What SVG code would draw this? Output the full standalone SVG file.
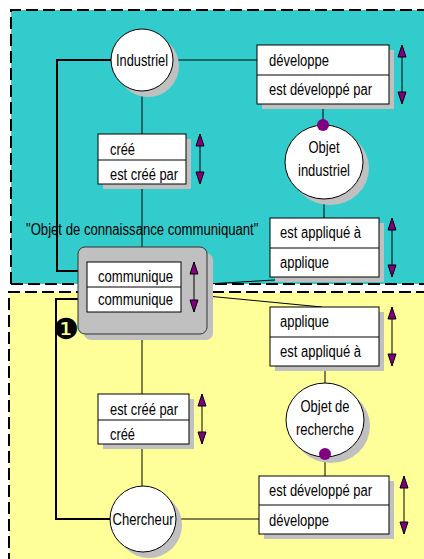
<svg xmlns="http://www.w3.org/2000/svg" width="424" height="559" viewBox="0 0 424 559">
<defs>
<style>
.t{font-family:"Liberation Sans",Arial,sans-serif;font-size:16px;fill:#000}
.box{fill:#fff;stroke:#000;stroke-width:1}
.sh{fill:#c0c0c0}
.ln{stroke:#000;stroke-width:1;fill:none}
.loop{stroke:#000;stroke-width:2;fill:none}
.dash{stroke:#000;stroke-width:2;stroke-dasharray:12 5;fill:none}
.arr{stroke:#000;stroke-width:1;marker-start:url(#ah);marker-end:url(#ah)}
.dot{fill:#800080}
</style>
<marker id="ah" viewBox="0 0 12 8" refX="12" refY="4" markerWidth="12" markerHeight="8" orient="auto-start-reverse" markerUnits="userSpaceOnUse" overflow="visible">
<path d="M0,0 L12,4 L0,8 z" fill="#800080" stroke="#000" stroke-width="1"/>
</marker>
</defs>
<rect width="424" height="559" fill="#fff"/>
<g id="zones">
<rect x="11" y="10" width="420" height="274" fill="#33cccc"/>
<path class="dash" d="M11,284 V10 H430"/>
<path class="dash" d="M11,284 H430"/>
<rect x="9" y="292" width="420" height="270" fill="#ffff99"/>
<path class="dash" d="M9,565 V292 H430"/>
</g>
<g id="connectors">
<path class="loop" d="M111,60 H57 V271 H87"/>
<path class="loop" d="M87,299 H56 V519 H111"/>
<path class="ln" d="M172,60 H257"/>
<path class="ln" d="M142,91 V134 M142,184 V247 M142,334 V394 M142,444 V487"/>
<path class="ln" d="M323,104 V125 M324,199 V218"/>
<path class="ln" d="M207,284 L325,277 M207,296 L322,307"/>
<path class="ln" d="M325,366 V383 M325,457 V476"/>
<path class="ln" d="M177,519 H259"/>
</g>
<g id="communiquant">
<rect class="sh" x="84" y="253" width="129" height="87" rx="7"/>
<rect x="78" y="247" width="129" height="87" rx="7" fill="#c0c0c0" stroke="#333" stroke-width="1"/>
<rect class="box" x="87" y="262" width="94" height="50"/>
<line class="ln" x1="87" y1="287" x2="181" y2="287"/>
<text class="t" x="98" y="282" textLength="75" lengthAdjust="spacingAndGlyphs">communique</text>
<text class="t" x="98" y="305" textLength="75" lengthAdjust="spacingAndGlyphs">communique</text>
<line class="arr" x1="194" y1="262" x2="194" y2="312"/>
<text x="66" y="338.5" font-family="DejaVu Sans,sans-serif" font-size="29" text-anchor="middle">❶</text>
</g>
<text class="t" transform="translate(26 235) scale(0.82 1)">"Objet de connaissance communiquant"</text>
<g id="industriel">
<circle class="sh" cx="148" cy="66" r="31"/>
<circle class="box" cx="142" cy="60" r="31"/>
<text class="t" x="142" y="66" text-anchor="middle" textLength="52" lengthAdjust="spacingAndGlyphs">Industriel</text>
</g>
<g id="cree1">
<rect class="sh" x="103" y="139" width="88" height="50"/>
<rect class="box" x="98" y="134" width="88" height="50"/>
<line class="ln" x1="98" y1="160" x2="186" y2="160"/>
<text class="t" x="110" y="155" textLength="25" lengthAdjust="spacingAndGlyphs">créé</text>
<text class="t" x="110" y="180" textLength="68" lengthAdjust="spacingAndGlyphs">est créé par</text>
<line class="arr" x1="200" y1="134" x2="200" y2="184"/>
</g>
<g id="developpe1">
<rect class="sh" x="262" y="50" width="132" height="59"/>
<rect class="box" x="257" y="45" width="132" height="59"/>
<line class="ln" x1="257" y1="75" x2="389" y2="75"/>
<text class="t" x="269" y="66" textLength="60" lengthAdjust="spacingAndGlyphs">développe</text>
<text class="t" x="269" y="95" textLength="103" lengthAdjust="spacingAndGlyphs">est développé par</text>
<line class="arr" x1="402" y1="45" x2="402" y2="104"/>
</g>
<g id="objet-industriel">
<ellipse class="sh" cx="330" cy="168" rx="39" ry="37"/>
<ellipse class="box" cx="324" cy="162" rx="39" ry="37"/>
<text class="t" x="324" y="153" text-anchor="middle" textLength="31" lengthAdjust="spacingAndGlyphs">Objet</text>
<text class="t" x="324" y="176" text-anchor="middle" textLength="52" lengthAdjust="spacingAndGlyphs">industriel</text>
<circle class="dot" cx="323" cy="125" r="6"/>
</g>
<g id="applique1">
<rect class="sh" x="275" y="223" width="109" height="59"/>
<rect class="box" x="270" y="218" width="109" height="59"/>
<line class="ln" x1="270" y1="248" x2="379" y2="248"/>
<text class="t" x="280" y="238" textLength="81" lengthAdjust="spacingAndGlyphs">est appliqué à</text>
<text class="t" x="280" y="268" textLength="49" lengthAdjust="spacingAndGlyphs">applique</text>
<line class="arr" x1="392" y1="218" x2="392" y2="277"/>
</g>
<g id="applique2">
<rect class="sh" x="275" y="312" width="109" height="59"/>
<rect class="box" x="270" y="307" width="109" height="59"/>
<line class="ln" x1="270" y1="337" x2="379" y2="337"/>
<text class="t" x="280" y="327" textLength="49" lengthAdjust="spacingAndGlyphs">applique</text>
<text class="t" x="280" y="357" textLength="81" lengthAdjust="spacingAndGlyphs">est appliqué à</text>
<line class="arr" x1="392" y1="307" x2="392" y2="366"/>
</g>
<g id="objet-recherche">
<ellipse class="sh" cx="331" cy="426" rx="39" ry="37"/>
<ellipse class="box" cx="325" cy="420" rx="39" ry="37"/>
<text class="t" x="325" y="412" text-anchor="middle" textLength="49" lengthAdjust="spacingAndGlyphs">Objet de</text>
<text class="t" x="325" y="435" text-anchor="middle" textLength="58" lengthAdjust="spacingAndGlyphs">recherche</text>
<circle class="dot" cx="325" cy="454" r="6"/>
</g>
<g id="cree2">
<rect class="sh" x="103" y="399" width="91" height="50"/>
<rect class="box" x="98" y="394" width="91" height="50"/>
<line class="ln" x1="98" y1="420" x2="189" y2="420"/>
<text class="t" x="110" y="415" textLength="68" lengthAdjust="spacingAndGlyphs">est créé par</text>
<text class="t" x="110" y="440" textLength="25" lengthAdjust="spacingAndGlyphs">créé</text>
<line class="arr" x1="202" y1="394" x2="202" y2="444"/>
</g>
<g id="developpe2">
<rect class="sh" x="264" y="481" width="130" height="58"/>
<rect class="box" x="259" y="476" width="130" height="58"/>
<line class="ln" x1="259" y1="505" x2="389" y2="505"/>
<text class="t" x="269" y="496" textLength="103" lengthAdjust="spacingAndGlyphs">est développé par</text>
<text class="t" x="269" y="526" textLength="60" lengthAdjust="spacingAndGlyphs">développe</text>
<line class="arr" x1="404" y1="476" x2="404" y2="534"/>
</g>
<g id="chercheur">
<circle class="sh" cx="149" cy="525" r="33"/>
<circle class="box" cx="143" cy="519" r="33"/>
<text class="t" x="143" y="525" text-anchor="middle" textLength="61" lengthAdjust="spacingAndGlyphs">Chercheur</text>
</g>
</svg>
